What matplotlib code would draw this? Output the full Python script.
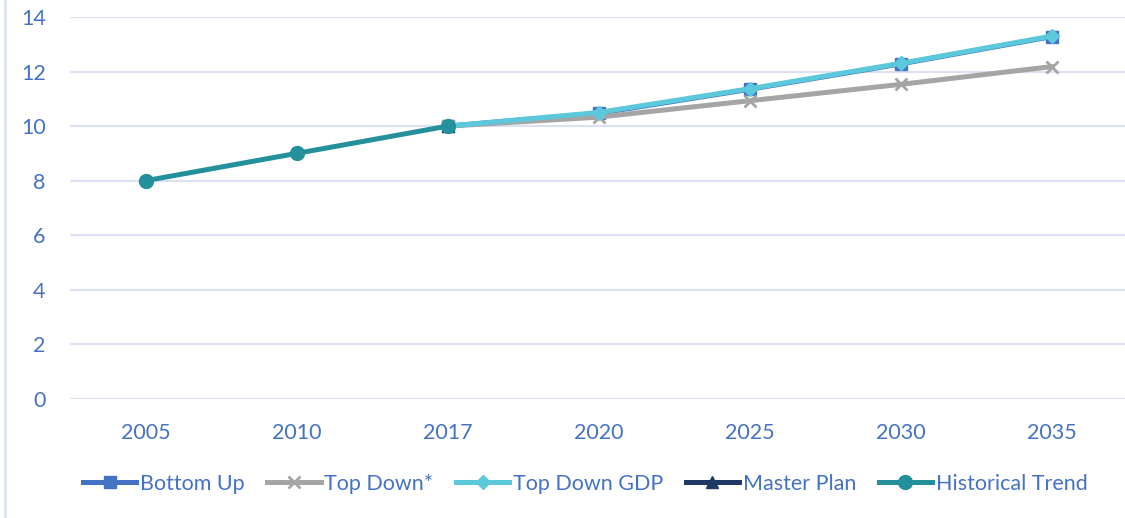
import numpy as np
import matplotlib.pyplot as plt

years = ['2005', '2010', '2017', '2020', '2025', '2030', '2035']
nan = np.nan
bottom_up = [nan, nan, 10.0, 10.47, 11.35, 12.28, 13.28]
top_down = [nan, nan, 10.0, 10.33, 10.93, 11.53, 12.18]
top_down_gdp = [nan, nan, 10.0, 10.5, 11.37, 12.3, 13.3]
master_plan = [nan, nan, 10.0, nan, nan, nan, nan]
historical = [8.0, 9.0, 10.0, nan, nan, nan, nan]

txt = '#4472C4'
plt.rcParams['font.family'] = ['Lato', 'DejaVu Sans']

fig = plt.figure(figsize=(11.25, 5.18), dpi=100)
ax = fig.add_axes([70 / 1125, 1 - 399 / 518, 1057 / 1125, 382 / 518])
x = np.arange(len(years))

lw = 3.6
ax.plot(x, bottom_up, color='#4472C4', lw=lw, marker='s', ms=9, label='Bottom Up', zorder=3)
ax.plot(x, top_down, color='#A5A5A5', lw=lw, marker='x', ms=9, mew=2, label='Top Down*', zorder=3)
ax.plot(x, top_down_gdp, color='#5BC8DB', lw=lw, marker='D', ms=7, label='Top Down GDP', zorder=3)
ax.plot(x, master_plan, color='#1F3864', lw=lw, marker='^', ms=8, label='Master Plan', zorder=3)
ax.plot(x, historical, color='#24909C', lw=lw, marker='o', ms=10, label='Historical Trend', zorder=4)

ax.set_xlim(-0.5, 6.5)
ax.set_ylim(0, 14)
ax.set_yticks(range(0, 15, 2))
ax.set_xticks(x)
ax.set_xticklabels(years)
ax.grid(axis='y', color='#D9E1F2', lw=1.5)
ax.set_axisbelow(True)
for s in ax.spines.values():
    s.set_visible(False)
ax.tick_params(length=0, labelsize=15.5, labelcolor=txt)
ax.tick_params(axis='x', pad=17)
ax.tick_params(axis='y', pad=17.5)

leg = fig.legend(loc='center', bbox_to_anchor=(0.52, 1 - 484 / 518), ncol=5, frameon=False,
                 fontsize=15.5, handlelength=2.5, handletextpad=0.15, columnspacing=1.05)
for t in leg.get_texts():
    t.set_color(txt)

# left border line
fig.add_artist(plt.Line2D([5 / 1125, 5 / 1125], [0, 1], color='#D9E1F2', lw=2))

fig.savefig('out.png', dpi=100)
